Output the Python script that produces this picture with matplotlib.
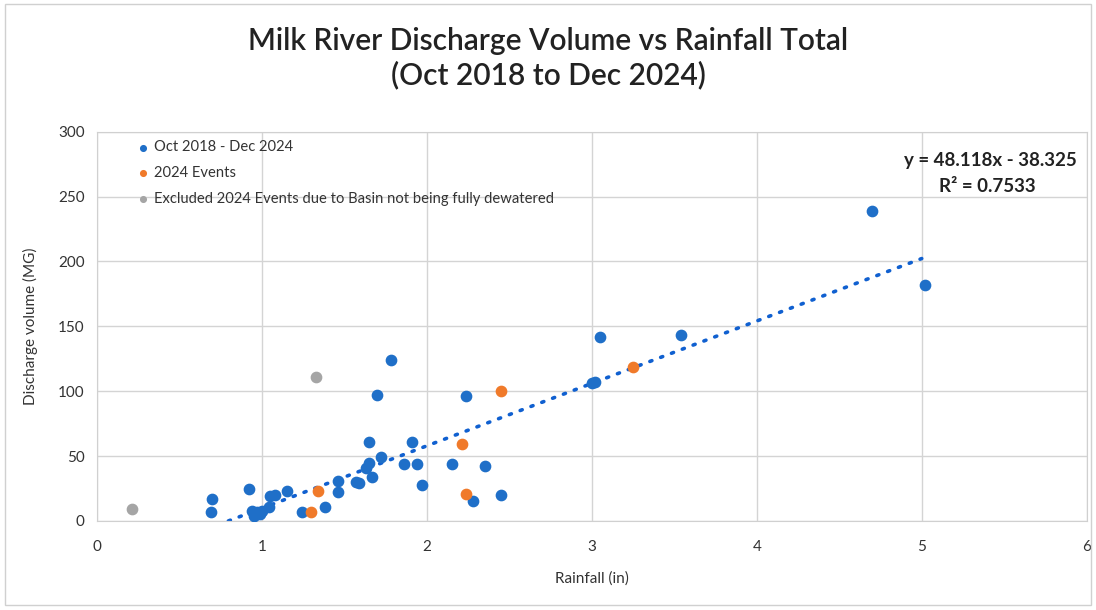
import matplotlib.pyplot as plt
from matplotlib.patches import Rectangle

# Dados
chuva_azul = [0.70, 0.69, 0.92, 0.94, 0.95, 0.97, 0.99, 1.00, 1.05, 1.08, 1.04, 1.15, 1.24,
              1.38, 1.46, 1.46, 1.57, 1.59, 1.63, 1.65, 1.65, 1.67, 1.72, 1.70, 1.78,
              1.86, 1.94, 1.91, 1.97, 2.15, 2.24, 2.28, 2.35, 2.45, 3.00, 3.02, 3.05,
              3.54, 4.70, 5.02]
volume_azul = [17, 7, 25, 8, 4, 7, 5, 8, 19, 20, 11, 23, 7,
               11, 22, 31, 30, 29, 41, 45, 61, 34, 49, 97, 124,
               44, 44, 61, 28, 44, 96, 15, 42, 20, 106, 107, 142,
               143, 239, 182]

chuva_laranja = [1.30, 1.34, 2.21, 2.24, 2.45, 3.25]
volume_laranja = [7, 23, 59, 21, 100, 119]

chuva_cinza = [0.21, 1.33]
volume_cinza = [9, 111]

# Linha de tendência (Excel)
inclinacao = 48.118
intercepto = -38.325
r2 = 0.7533

azul = '#1f6fc8'
laranja = '#f07a2a'
cinza = '#a5a5a5'

plt.rcParams['font.family'] = ['Lato', 'DejaVu Sans']

fig = plt.figure(figsize=(10.96, 6.10), dpi=100)
fig.patches.append(Rectangle((0.005, 0.008), 0.99, 0.985, transform=fig.transFigure,
                             fill=False, edgecolor='#d0d0d0', lw=1))
ax = fig.add_axes([0.0885, 0.146, 0.903, 0.638])

ax.scatter(chuva_azul, volume_azul, s=55, color=azul, zorder=3, label='Oct 2018 - Dec 2024')
ax.scatter(chuva_laranja, volume_laranja, s=55, color=laranja, zorder=4, label='2024 Events')
ax.scatter(chuva_cinza, volume_cinza, s=55, color=cinza, zorder=3,
           label='Excluded 2024 Events due to Basin not being fully dewatered')

x0 = -intercepto / inclinacao
x1 = 5.0
ax.plot([x0, x1], [inclinacao * x0 + intercepto, inclinacao * x1 + intercepto],
        color='#1060d0', lw=2.6, linestyle=(0, (0.6, 2.6)), dash_capstyle='round', zorder=2)

ax.set_xlim(0, 6)
ax.set_ylim(0, 300)
ax.set_xticks(range(0, 7))
ax.set_yticks(range(0, 301, 50))
ax.grid(True, color='#d4d4d4', lw=1)
ax.set_axisbelow(True)
for s in ax.spines.values():
    s.set_color('#d0d0d0')
ax.tick_params(length=0, labelsize=11, colors='#333333', pad=9)
ax.tick_params(axis='x', pad=14)

ax.set_xlabel('Rainfall (in)', fontsize=11, color='#333333', labelpad=12)
ax.set_ylabel('Discharge volume (MG)', fontsize=11, color='#333333', labelpad=14)

ax.text(0.99, 0.925, f'y = {inclinacao}x - {abs(intercepto)}', transform=ax.transAxes,
        ha='right', va='center', fontsize=13.5, fontweight='bold', color='#222222')
ax.text(0.948, 0.86, f'R² = {r2}', transform=ax.transAxes,
        ha='right', va='center', fontsize=13.5, fontweight='bold', color='#222222')

leg = ax.legend(loc='upper left', bbox_to_anchor=(0.02, 1.008), frameon=False, fontsize=10.6,
                handletextpad=-0.3, markerscale=0.55, labelspacing=0.8, borderaxespad=0.4)
for t in leg.get_texts():
    t.set_color('#333333')

fig.text(0.5, 0.932, 'Milk River Discharge Volume vs Rainfall Total', ha='center', va='center',
         fontsize=21.5, color='#222222', fontweight='semibold')
fig.text(0.5, 0.878, '(Oct 2018 to Dec 2024)', ha='center', va='center',
         fontsize=21.5, color='#222222', fontweight='semibold')

fig.savefig('out.png', dpi=100)
